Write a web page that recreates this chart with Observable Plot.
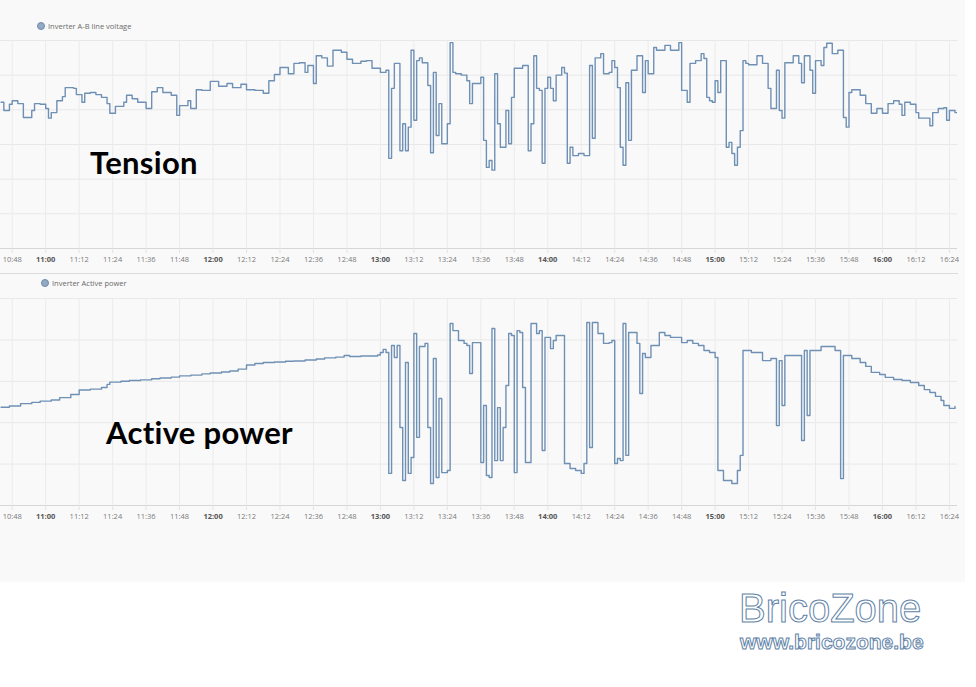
<!DOCTYPE html>
<html><head><meta charset="utf-8">
<script src="https://cdn.jsdelivr.net/npm/d3@7"></script>
<script src="https://cdn.jsdelivr.net/npm/@observablehq/plot@0.6"></script>
<style>
body{margin:0;background:#fff;}
#page{position:relative;width:976px;height:687px;overflow:hidden;font-family:"Open Sans",sans-serif;}
#panel{position:absolute;left:0;top:0;width:965px;height:582px;background:#f9f9f9;}
.chart{position:absolute;left:0;}
.legend{position:absolute;font-size:7.5px;color:#6a6a6a;display:flex;align-items:center;white-space:nowrap;}
.legend .dot{width:8px;height:8px;border-radius:50%;background:#93aac5;border:1px solid #6f8aa8;box-sizing:border-box;margin-right:3px;}
.sep{position:absolute;left:0;top:273px;width:958px;height:0;border-top:1px solid #dcdcdc;}
.note{position:absolute;font-family:Lato,"Open Sans",sans-serif;font-weight:bold;font-size:31px;letter-spacing:0.3px;color:#000;white-space:nowrap;line-height:1;}
.brand{position:absolute;font-family:"Liberation Sans",Arial,sans-serif;color:#fff;-webkit-text-stroke:1px #5f83a8;white-space:nowrap;line-height:1;}
</style></head>
<body><div id="page"><div id="panel"></div></div>
<script>
// ---- data ----
const xTickLabels = ["10:48","11:00","11:12","11:24","11:36","11:48","12:00","12:12","12:24","12:36","12:48","13:00","13:12","13:24","13:36","13:48","14:00","14:12","14:24","14:36","14:48","15:00","15:12","15:24","15:36","15:48","16:00","16:12","16:24"];

const voltTimes = ["10:44","10:45","10:47","10:48","10:50","10:52","10:55","10:56","10:58","11:00","11:01","11:02","11:04","11:06","11:07","11:10","11:11","11:13","11:14","11:16","11:18","11:20","11:22","11:23","11:25","11:28","11:29","11:31","11:33","11:36","11:38","11:40","11:42","11:45","11:47","11:48","11:51","11:52","11:54","11:56","11:59","12:02","12:05","12:07","12:10","12:12","12:15","12:18","12:20","12:22","12:24","12:27","12:29","12:31","12:33","12:34","12:36","12:37","12:39","12:41","12:43","12:46","12:48","12:50","12:53","12:55","12:57","13:00","13:02","13:03","13:04","13:05","13:07","13:08","13:09","13:10","13:11","13:12","13:13","13:14","13:15","13:17","13:18","13:19","13:20","13:21","13:22","13:24","13:25","13:26","13:27","13:29","13:31","13:32","13:33","13:36","13:37","13:38","13:39","13:40","13:41","13:42","13:43","13:45","13:46","13:47","13:48","13:51","13:53","13:54","13:55","13:56","13:57","13:58","13:59","14:00","14:01","14:02","14:03","14:05","14:06","14:07","14:08","14:09","14:11","14:13","14:15","14:16","14:17","14:19","14:20","14:22","14:23","14:24","14:25","14:26","14:27","14:28","14:29","14:30","14:32","14:34","14:35","14:36","14:38","14:39","14:42","14:44","14:47","14:48","14:50","14:51","14:53","14:55","14:56","14:57","14:58","14:59","15:00","15:01","15:02","15:04","15:05","15:06","15:07","15:08","15:09","15:10","15:11","15:12","15:15","15:17","15:19","15:20","15:22","15:23","15:24","15:25","15:28","15:30","15:31","15:32","15:34","15:35","15:36","15:38","15:39","15:40","15:42","15:44","15:46","15:47","15:48","15:49","15:52","15:54","15:56","15:58","16:00","16:02","16:04","16:06","16:07","16:08","16:10","16:12","16:13","16:17","16:18","16:20","16:22","16:23","16:24","16:26","16:27"];
const voltValues = [411.1,409.9,410.8,411.3,410.9,408.9,409.9,410.9,410.8,410.2,408.8,409.6,411.3,411.9,413.2,413.1,412.2,411.1,412.4,412.5,412.2,411.8,410.9,409.5,410.5,411.1,412.1,411.6,411.1,410.2,412.6,413.2,412.5,412.1,409.2,410.6,411.3,410.2,412.9,412.8,414.1,413.4,413.8,413.2,413.7,412.9,412.8,412.4,414.2,415.1,416.1,415.2,416.7,416.8,415.4,416.4,413.8,417.8,417.5,416.3,418.6,418.3,417.3,416.7,417.0,417.1,416.0,415.4,415.7,403.0,413.1,416.7,404.1,408.0,404.1,407.5,418.6,408.5,417.1,417.5,416.8,413.5,403.8,415.4,406.3,410.9,405.1,408.0,419.7,415.4,415.2,415.0,414.2,410.9,413.8,414.7,405.6,401.7,402.7,401.3,415.2,408.0,404.6,409.9,405.1,411.8,416.0,416.4,404.1,408.0,417.8,413.1,412.8,402.3,413.1,414.7,413.1,411.3,415.0,416.1,415.3,402.3,404.6,403.4,403.7,403.4,416.4,405.9,417.5,418.1,415.2,415.4,417.1,416.1,413.2,404.6,402.0,413.9,405.6,415.7,417.8,412.5,417.1,415.2,419.0,418.6,419.3,418.6,419.7,412.8,411.1,416.7,417.1,418.1,417.4,411.8,411.3,411.1,414.2,412.5,417.1,404.6,405.3,403.7,402.0,404.6,407.0,417.1,416.7,416.5,417.8,416.7,413.1,410.2,415.7,409.9,408.8,416.8,417.8,416.7,413.9,417.8,415.7,412.4,417.1,416.4,419.0,419.6,418.1,418.6,408.9,407.5,412.5,412.9,412.1,410.9,409.5,410.2,409.5,410.9,411.3,410.8,409.2,411.1,410.8,409.6,408.8,407.7,409.6,410.2,410.3,408.5,409.9,409.6,408.5];

const powerTimes = ["10:44","10:47","10:51","10:55","10:58","11:02","11:05","11:09","11:12","11:16","11:20","11:22","11:23","11:27","11:30","11:34","11:38","11:41","11:45","11:48","11:52","11:56","11:59","12:03","12:06","12:09","12:12","12:15","12:18","12:22","12:26","12:29","12:33","12:37","12:40","12:44","12:47","12:49","12:53","12:56","12:59","13:00","13:01","13:02","13:03","13:04","13:05","13:06","13:07","13:08","13:09","13:10","13:11","13:12","13:13","13:14","13:16","13:17","13:18","13:19","13:20","13:21","13:22","13:24","13:25","13:26","13:28","13:30","13:31","13:32","13:33","13:36","13:37","13:38","13:39","13:40","13:41","13:42","13:43","13:44","13:45","13:46","13:47","13:48","13:49","13:50","13:51","13:52","13:54","13:56","13:57","13:58","13:59","14:01","14:02","14:03","14:06","14:08","14:10","14:12","14:13","14:14","14:15","14:16","14:18","14:20","14:22","14:23","14:24","14:25","14:26","14:27","14:28","14:29","14:32","14:33","14:34","14:35","14:37","14:40","14:42","14:44","14:46","14:48","14:50","14:52","14:54","14:56","14:58","15:00","15:01","15:03","15:06","15:08","15:09","15:10","15:13","15:17","15:20","15:22","15:23","15:24","15:25","15:31","15:32","15:33","15:34","15:38","15:43","15:45","15:46","15:49","15:52","15:54","15:56","15:59","16:01","16:04","16:07","16:10","16:13","16:15","16:17","16:19","16:21","16:22","16:24","16:26"];
const powerValues = [4.75,4.81,4.92,4.98,5.04,5.10,5.21,5.36,5.58,5.62,5.70,5.85,5.96,6.00,6.04,6.07,6.12,6.16,6.20,6.26,6.30,6.36,6.40,6.45,6.50,6.59,6.79,6.86,6.91,6.93,6.97,6.98,7.03,7.08,7.13,7.17,7.25,7.20,7.22,7.22,7.27,7.39,7.54,7.39,1.55,7.73,7.15,7.73,3.77,1.21,6.91,1.55,2.32,8.31,3.29,7.68,7.83,3.77,1.06,7.10,1.35,5.17,1.59,1.69,8.79,8.45,7.97,7.83,7.73,6.38,7.87,2.08,4.83,1.45,1.35,8.55,2.17,4.73,2.17,3.77,5.80,8.31,8.21,1.59,8.45,8.36,5.70,2.08,8.79,8.31,8.45,2.66,8.12,7.58,7.97,8.21,2.03,1.79,1.69,1.55,2.03,8.84,2.80,8.84,8.31,7.83,7.87,7.97,2.03,2.27,2.17,8.79,2.42,8.36,7.83,5.41,7.34,7.15,7.73,8.36,8.21,8.12,8.12,7.87,7.97,7.83,7.73,7.49,7.39,7.15,1.69,1.21,1.06,1.69,2.42,7.49,7.39,7.00,7.10,3.86,7.00,4.83,7.25,3.14,7.49,4.35,7.49,7.68,7.49,1.30,7.25,7.10,6.91,6.72,6.43,6.33,6.19,6.09,6.04,5.94,5.80,5.60,5.46,5.27,5.07,4.83,4.69,4.78];

const voltTicks = [390,395,400,405,410,415,420];
const powerTicks = [0,2,4,6,8,10];
const xStartLabel = "10:43:48", xEndLabel = "16:26:54";

// ---- helpers ----
function toDate(s){const p=s.split(":").map(Number);return new Date(Date.UTC(2023,5,1,p[0],p[1],p[2]||0));}
const voltData = voltTimes.map((t,i)=>({t:toDate(t),v:voltValues[i]}));
const powerData = powerTimes.map((t,i)=>({t:toDate(t),v:powerValues[i]}));
const xTicks = xTickLabels.map(toDate);
const hourTicks = xTicks.filter(d=>d.getUTCMinutes()===0);
const minorTicks = xTicks.filter(d=>d.getUTCMinutes()!==0);
const fmt = d3.utcFormat("%H:%M");
const xDomain=[toDate(xStartLabel),toDate(xEndLabel)];
const lineColor="#6f90b5";

function chart(data, yDomain, yTicks, height, marginTop){
  const axisCommon={tickFormat:fmt,fontSize:7.5,tickSize:5,tickPadding:3,stroke:"#e4e4e4",label:null};
  return Plot.plot({
    width:965,height,marginLeft:0,marginRight:8,marginTop,marginBottom:24,
    style:{background:"transparent",overflow:"visible",fontFamily:"'Open Sans',sans-serif"},
    x:{type:"utc",domain:xDomain},
    y:{domain:yDomain,axis:null},
    marks:[
      Plot.gridY(yTicks,{stroke:"#e8e8e8",strokeOpacity:1}),
      Plot.gridX(xTicks,{stroke:"#ebebeb",strokeOpacity:1}),
      Plot.ruleY([yDomain[0]],{stroke:"#d6d6d6"}),
      Plot.axisX(minorTicks,{...axisCommon,fill:"#7a7a7a"}),
      Plot.axisX(hourTicks,{...axisCommon,fill:"#555",fontWeight:"bold"}),
      Plot.line(data,{x:"t",y:"v",curve:"step-after",stroke:lineColor,strokeWidth:1.4,clip:true})
    ]
  });
}

const page=document.getElementById("page");
const top1=chart(voltData,[390,420],voltTicks,272,40);
top1.classList.add("chart");top1.style.top="0px";
page.appendChild(top1);
const sep=document.createElement("div");sep.className="sep";page.appendChild(sep);
const top2=chart(powerData,[0,10],powerTicks,256,25);
top2.classList.add("chart");top2.style.top="273px";
page.appendChild(top2);

function legend(text,left,top){
  const d=document.createElement("div");d.className="legend";
  d.style.left=left+"px";d.style.top=top+"px";
  d.innerHTML='<span class="dot"></span><span></span>';
  d.lastChild.textContent=text;page.appendChild(d);
}
legend("Inverter A-B line voltage",37,21);
legend("Inverter Active power",41,278);

function note(text,left,top,cls,size,weight){
  const d=document.createElement("div");d.className=cls;d.textContent=text;
  d.style.left=left+"px";d.style.top=top+"px";
  if(size)d.style.fontSize=size+"px";if(weight)d.style.fontWeight=weight;
  page.appendChild(d);
}
note("Tension",90,147,"note");
note("Active power",106,417,"note");
note("BricoZone",739,588,"brand",40,"normal");
note("www.bricozone.be",740,631,"brand",21,"bold");
</script></body></html>
